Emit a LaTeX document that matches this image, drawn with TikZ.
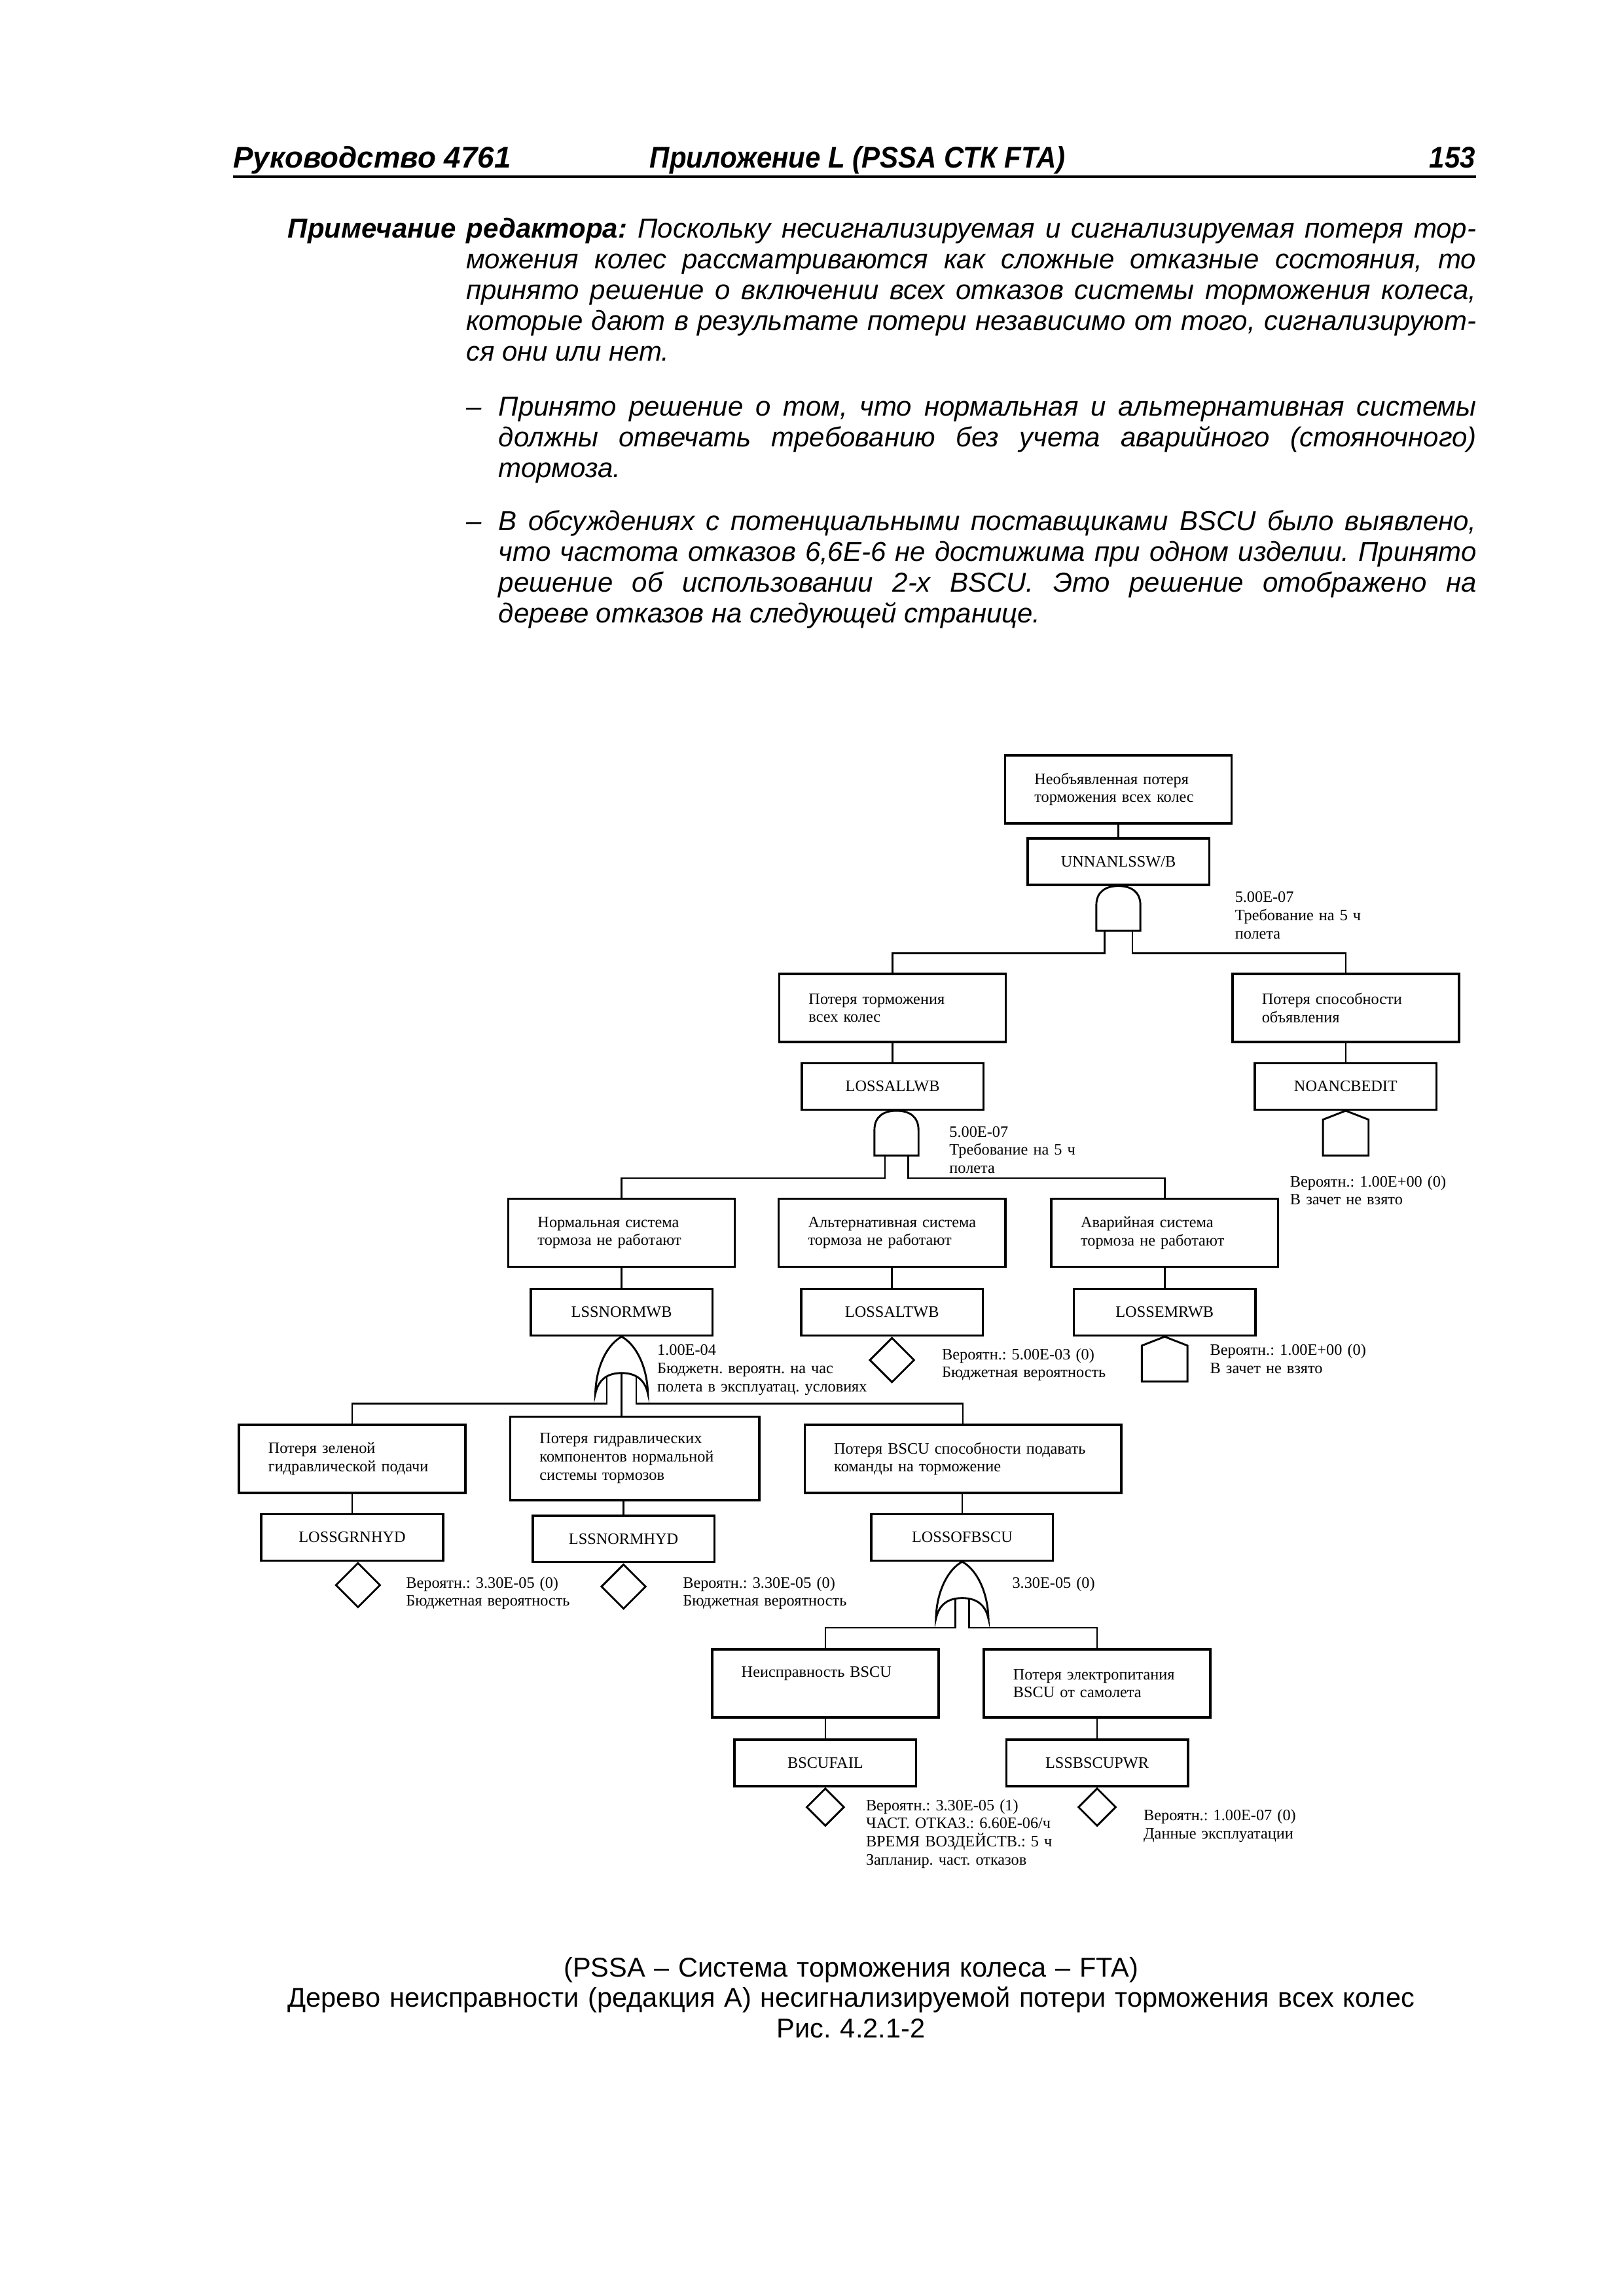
\documentclass[tikz,border=0pt]{standalone}
\usepackage{fontspec}
\usepackage{graphicx}
\setmainfont{Liberation Sans}
\newfontfamily\ftafont{Liberation Serif}
\usetikzlibrary{shapes.geometric}
\pgfdeclarelayer{background}
\pgfsetlayers{background,main}
\frenchspacing

\tikzset{
  descbox/.style={draw,line width=0.85pt,inner xsep=0pt,inner ysep=0pt,
    text width=29.3mm,minimum height=8.8mm,align=left,
    execute at begin node={\leftskip=3.8mm}},
  idbox/.style={draw,line width=0.85pt,inner sep=0pt,
    minimum width=23.5mm,minimum height=6mm},
  event/.style={diamond,draw,line width=0.7pt,inner sep=0pt,
    minimum width=5.8mm,minimum height=5.8mm,anchor=north},
  note/.style={anchor=base west,text width=48mm,align=left},
  link/.style={line width=0.6pt},
  gateline/.style={line width=0.7pt,fill=white},
  andgate/.pic={
    \draw[gateline] (-2.85,-5.8) -- (-2.85,-2.5)
      .. controls (-2.85,-0.7) and (-1.6,0) .. (0,0)
      .. controls (1.6,0) and (2.85,-0.7) .. (2.85,-2.5)
      -- (2.85,-5.8) -- cycle;
    \coordinate (-b) at (0,-5.8);
  },
  orgate/.pic={
    \draw[gateline] (-3.4,-7.4) .. controls (-3.3,-3.6) and (-1.7,-0.9) .. (0,0)
      .. controls (1.7,-0.9) and (3.3,-3.6) .. (3.4,-7.4)
      .. controls (3.0,-5.5) and (1.8,-4.7) .. (0,-4.7)
      .. controls (-1.8,-4.7) and (-3.0,-5.5) .. (-3.4,-7.4) -- cycle;
    \coordinate (-b) at (0,-4.7);
  },
  house/.pic={
    \draw[gateline] (0,0) -- (2.95,-1.15) -- (2.95,-5.8)
      -- (-2.95,-5.8) -- (-2.95,-1.15) -- cycle;
  }
}

\begin{document}
\begin{tikzpicture}[x=1mm,y=1mm,
  every node/.style={font=\ftafont\fontsize{5.85pt}{6.7pt}\selectfont,inner sep=0pt}]
  \useasboundingbox (0,0) rectangle (210,297);
  % page head
  \node[anchor=base west,font=\fontsize{11pt}{13pt}\selectfont\bfseries\itshape] (HL) at (30.1,275.26) {Руководство 4761};
  \node[anchor=base west,font=\fontsize{11pt}{13pt}\selectfont\bfseries\itshape] (HM) at (84.0,275.26) {\scalebox{0.92}[1]{Приложение L (PSSA СТК FTA)}};
  \node[anchor=base east,font=\fontsize{11pt}{13pt}\selectfont\bfseries\itshape] (HR) at (190.9,275.26) {\scalebox{0.92}[1]{153}};
  \draw[line width=1pt] (30.1,274.14) -- (190.9,274.14);
  % editor's note
  \node[anchor=base west,text width=153.7mm,align=justify,
    font=\fontsize{10.1pt}{11.35pt}\selectfont\itshape] (ED) at (37.17,266.25)
    {\hangindent=23.05mm\hangafter=1 \textbf{Примечание редактора:} Поскольку несигнализируемая и сигнализируемая потеря тор-\linebreak
     можения колес рассматриваются как сложные отказные состояния, то\linebreak
     принято решение о включении всех отказов системы торможения колеса,\linebreak
     которые дают в результате потери независимо от того, сигнализируют-\linebreak
     ся они или нет.\par};
  \node[anchor=base west,text width=130.68mm,align=justify,
    font=\fontsize{10.1pt}{11.35pt}\selectfont\itshape] (I1) at (60.22,243.22)
    {\hangindent=4.22mm\hangafter=1 \makebox[4.22mm][l]{–}Принято решение о том, что нормальная и альтернативная системы\linebreak
     должны отвечать требованию без учета аварийного (стояночного)\linebreak
     тормоза.\par};
  \node[anchor=base west,text width=130.68mm,align=justify,
    font=\fontsize{10.1pt}{11.35pt}\selectfont\itshape] (I2) at (60.22,228.41)
    {\hangindent=4.22mm\hangafter=1 \makebox[4.22mm][l]{–}В обсуждениях с потенциальными поставщиками BSCU было выявлено,\linebreak
     что частота отказов 6,6E-6 не достижима при одном изделии. Принято\linebreak
     решение об использовании 2-х BSCU. Это решение отображено на\linebreak
     дереве отказов на следующей странице.\par};

  % fault tree
  \node[descbox] (E0) at (144.65,194.91) {Необъявленная потеря\\торможения всех колес};
  \node[idbox] (C0) at (144.65,185.54) {UNNANLSSW/B};
  \pic (G0) at (C0.south) {andgate};
  \node[note] (N0) at (159.67,180.29) {5.00E-07\\Требование на 5 ч\\полета};

  \node[descbox] (E1) at (115.45,166.60) {Потеря торможения\\всех колес};
  \node[idbox] (C1) at (115.45,156.47) {LOSSALLWB};
  \pic (G1) at ([xshift=0.5mm]C1.south) {andgate};
  \node[note] (N1) at (122.73,149.93) {5.00E-07\\Требование на 5 ч\\полета};

  \node[descbox] (E2) at (174.06,166.60) {Потеря способности\\объявления};
  \node[idbox] (C2) at (174.06,156.47) {NOANCBEDIT};
  \pic (H2) at (C2.south) {house};
  \node[note] (N2) at (166.8,143.49) {Вероятн.: 1.00E+00 (0)\\В зачет не взято};

  \node[descbox] (E3) at (80.40,137.53) {Нормальная система\\тормоза не работают};
  \node[idbox] (C3) at (80.40,127.24) {LSSNORMWB};
  \pic (G3) at (C3.south) {orgate};
  \node[note] (N3) at (84.95,121.71) {1.00E-04\\Бюджетн. вероятн. на час\\полета в эксплуатац. условиях};

  \node[descbox] (E4) at (115.37,137.53) {Альтернативная система\\тормоза не работают};
  \node[idbox] (C4) at (115.37,127.24) {LOSSALTWB};
  \node[event] (B4) at (C4.south) {};
  \node[note] (N4) at (121.78,121.14) {Вероятн.: 5.00E-03 (0)\\Бюджетная вероятность};

  \node[descbox] (E5) at (150.64,137.53) {Аварийная система\\тормоза не работают};
  \node[idbox] (C5) at (150.64,127.24) {LOSSEMRWB};
  \pic (H5) at (C5.south) {house};
  \node[note] (N5) at (156.44,121.71) {Вероятн.: 1.00E+00 (0)\\В зачет не взято};

  \node[descbox] (E6) at (45.55,108.30) {Потеря зеленой\\гидравлической подачи};
  \node[idbox] (C6) at (45.55,98.13) {LOSSGRNHYD};
  \node[event] (B6) at ([xshift=0.75mm]C6.south) {};
  \node[note] (N6) at (52.46,91.6) {Вероятн.: 3.30E-05 (0)\\Бюджетная вероятность};

  \node[descbox,text width=32.2mm,minimum height=10.8mm] (E7) at (82.10,108.34) {Потеря гидравлических\\компонентов нормальной\\системы тормозов};
  \node[idbox] (C7) at (80.65,97.94) {LSSNORMHYD};
  \node[event] (B7) at (C7.south) {};
  \node[note] (N7) at (88.26,91.6) {Вероятн.: 3.30E-05 (0)\\Бюджетная вероятность};

  \node[descbox,text width=40.95mm] (E8) at (124.55,108.30) {Потеря BSCU способности подавать\\команды на торможение};
  \node[idbox] (C8) at (124.45,98.13) {LOSSOFBSCU};
  \pic (G8) at (C8.south) {orgate};
  \node[note] (N8) at (130.87,91.6) {3.30E-05 (0)};

  \node[descbox] (E9) at (106.75,79.23) {Неисправность BSCU\\\strut};
  \node[idbox] (C9) at (106.75,68.96) {BSCUFAIL};
  \node[event,minimum width=4.9mm,minimum height=4.9mm] (B9) at (C9.south) {};
  \node[note] (N9) at (111.94,62.81) {Вероятн.: 3.30E-05 (1)\\ЧАСТ. ОТКАЗ.: 6.60E-06/ч\\ВРЕМЯ ВОЗДЕЙСТВ.: 5 ч\\Запланир. част. отказов};

  \node[descbox] (E10) at (141.9,79.23) {Потеря электропитания\\BSCU от самолета};
  \node[idbox] (C10) at (141.9,68.96) {LSSBSCUPWR};
  \node[event,minimum width=4.9mm,minimum height=4.9mm] (B10) at (C10.south) {};
  \node[note] (N10) at (147.85,61.48) {Вероятн.: 1.00E-07 (0)\\Данные эксплуатации};

  \begin{pgfonlayer}{background}
    \draw[link] (E0) -- (C0);
    \draw[link] (E1) -- (C1);
    \draw[link] (E2) -- (C2);
    \draw[link] (E3) -- (C3);
    \draw[link] (E4) -- (C4);
    \draw[link] (E5) -- (C5);
    \draw[link] (E6) -- (C6);
    \draw[link] (E7.south -| C7) -- (C7);
    \draw[link] (E8.south -| C8) -- (C8);
    \draw[link] (E9) -- (C9);
    \draw[link] (E10) -- (C10);
    % gate inputs
    \draw[link] (E1.north) |- ([xshift=-1.8mm,yshift=-2.9mm]G0-b) -- ([xshift=-1.8mm]G0-b);
    \draw[link] (E2.north) |- ([xshift=1.8mm,yshift=-2.9mm]G0-b) -- ([xshift=1.8mm]G0-b);
    \draw[link] (E3.north) |- ([xshift=-1.5mm,yshift=-2.9mm]G1-b) -- ([xshift=-1.5mm]G1-b);
    \draw[link] (E5.north) |- ([xshift=1.5mm,yshift=-2.9mm]G1-b) -- ([xshift=1.5mm]G1-b);
    \draw[link] (E6.north) |- ([xshift=-1.9mm,yshift=-3.95mm]G3-b) -- ([xshift=-1.9mm]G3-b);
    \draw[link] (E7.north -| G3-b) -- (G3-b);
    \draw[link] (E8.north) |- ([xshift=1.9mm,yshift=-3.95mm]G3-b) -- ([xshift=1.9mm]G3-b);
    \draw[link] (E9.north) |- ([xshift=-0.9mm,yshift=-3.85mm]G8-b) -- ([xshift=-0.9mm]G8-b);
    \draw[link] (E10.north) |- ([xshift=0.9mm,yshift=-3.85mm]G8-b) -- ([xshift=0.9mm]G8-b);
  \end{pgfonlayer}

  % caption
  \node[anchor=base,text width=170mm,align=center,
    font=\fontsize{10pt}{11.2pt}\selectfont] (CAP) at (110.07,41.3)
    {(PSSA – Система торможения колеса – FTA)\\
     Дерево неисправности (редакция A) несигнализируемой потери торможения всех колес\\
     Рис. 4.2.1-2};
\end{tikzpicture}
\end{document}
